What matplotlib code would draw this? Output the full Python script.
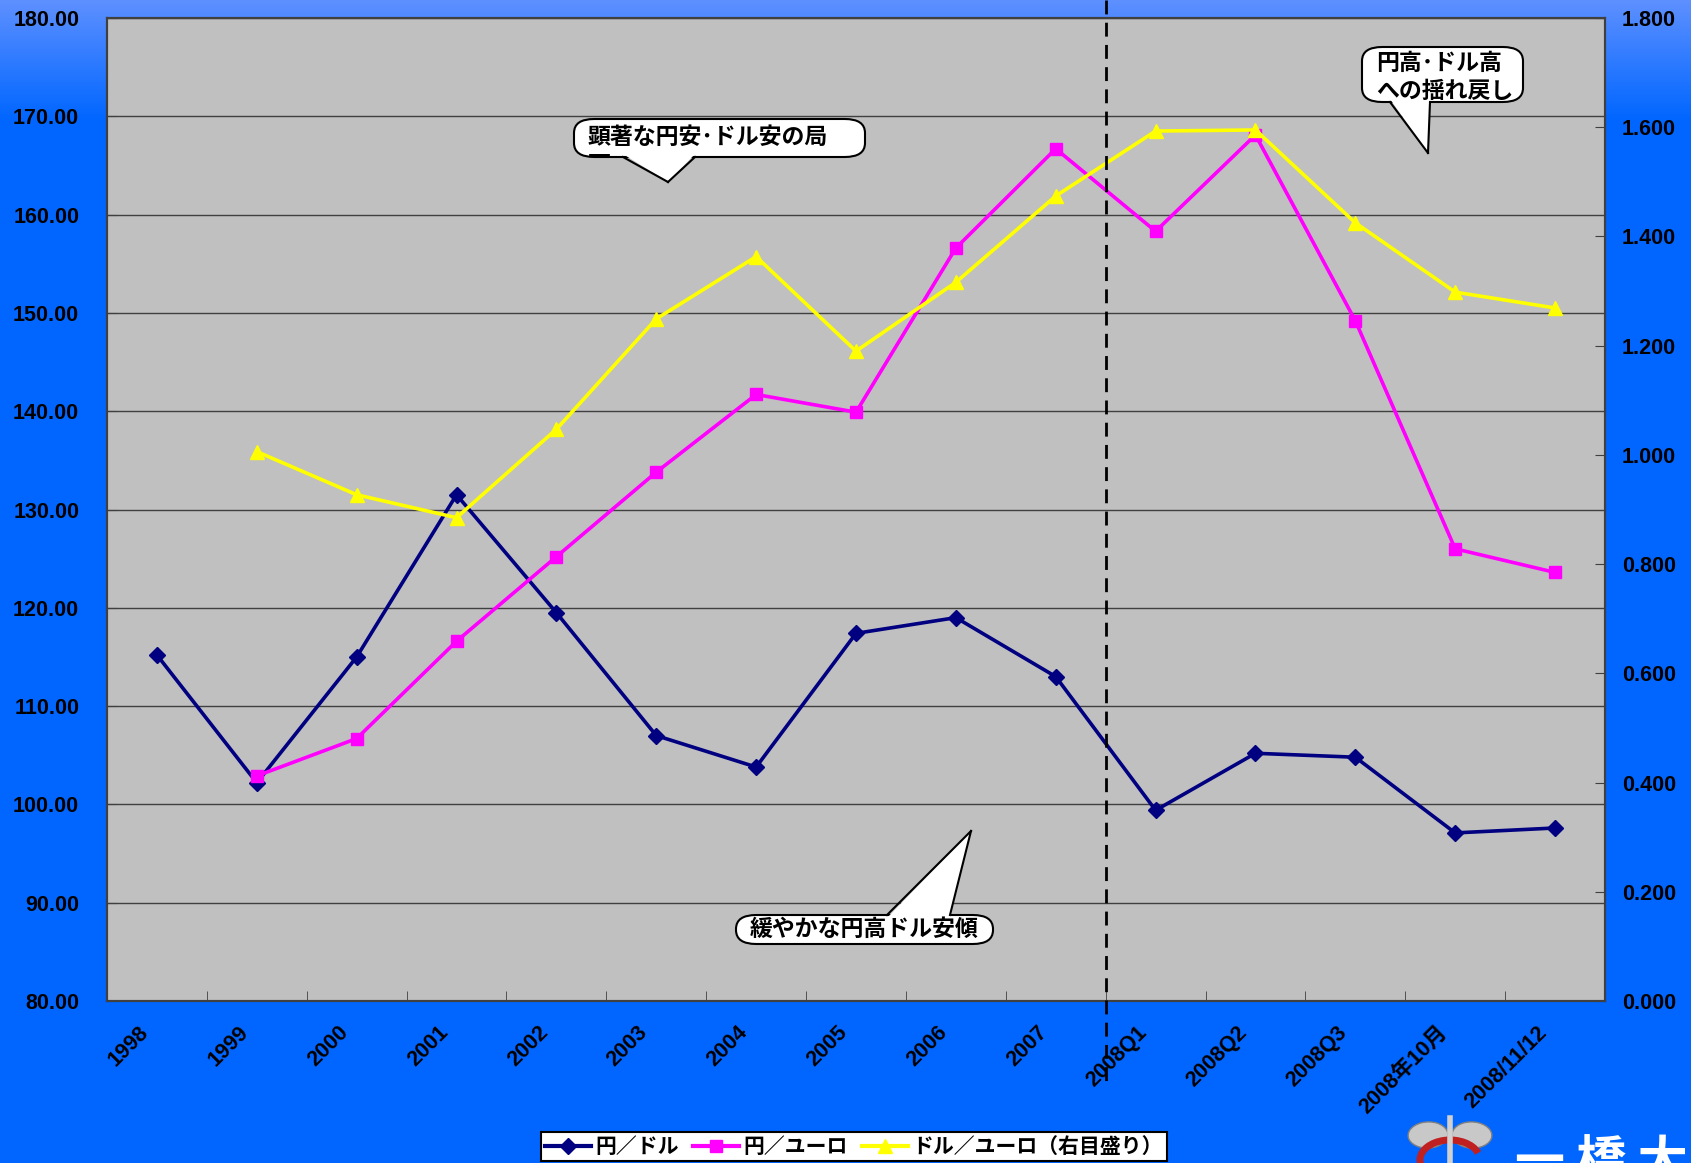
import numpy as np
import matplotlib
matplotlib.use('Agg')
import matplotlib.pyplot as plt
from matplotlib.patches import FancyBboxPatch, Polygon, Ellipse, Arc
from matplotlib.lines import Line2D
from matplotlib.transforms import (blended_transform_factory, ScaledTranslation,
                                   Bbox, TransformedBbox)

plt.rcParams['font.family'] = ['Liberation Sans', 'Noto Sans CJK JP', 'DejaVu Sans']
plt.rcParams['font.weight'] = 'bold'
CJK = ['Noto Sans CJK JP', 'DejaVu Sans']

# Data
categories = ['1998', '1999', '2000', '2001', '2002', '2003', '2004', '2005',
              '2006', '2007', '2008Q1', '2008Q2', '2008Q3', '2008年10月', '2008/11/12']
yen_dollar = [115.2, 102.2, 115.0, 131.5, 119.5, 107.0, 103.8, 117.4,
              119.0, 113.0, 99.4, 105.2, 104.8, 97.1, 97.6]
yen_euro = [np.nan, 102.9, 106.7, 116.6, 125.2, 133.8, 141.7, 139.9,
            156.6, 166.7, 158.3, 168.1, 149.2, 126.0, 123.6]
dollar_euro = [np.nan, 1.006, 0.927, 0.885, 1.047, 1.249, 1.363, 1.190,
               1.316, 1.474, 1.593, 1.595, 1.425, 1.298, 1.269]
series_labels = ['円／ドル', '円／ユーロ', 'ドル／ユーロ（右目盛り）']

W, H = 1691, 1163
fig = plt.figure(figsize=(W / 100, H / 100), dpi=100)


def fx(x):
    return x / W


def fy(y):
    return 1 - y / H


# Background gradient
bg = fig.add_axes([0, 0, 1, 1], zorder=-10)
top = np.array([0x5e, 0x90, 0xff]) / 255
base = np.array([0x00, 0x66, 0xff]) / 255
t = np.clip(np.arange(H) / 120.0, 0, 1)[:, None]
grad = top * (1 - t) + base * t
bg.imshow(grad[:, None, :].repeat(2, axis=1), aspect='auto', extent=[0, 1, 0, 1])
bg.axis('off')

ax = fig.add_axes([fx(107), fy(1001), fx(1605 - 107), (1001 - 18) / H])
ax.set_facecolor('#c0c0c0')
x = np.arange(len(categories))

ax.plot(x, yen_dollar, color='#000080', lw=2.6, marker='D', ms=8, zorder=3)
ax.plot(x, yen_euro, color='#ff00ff', lw=2.6, marker='s', ms=9, zorder=3)
ax.set_ylim(80, 180)
ax.set_yticks(np.arange(80, 181, 10))
ax.set_yticklabels([f'{v:.2f}' for v in np.arange(80, 181, 10)])
ax.grid(axis='y', color='#404040', lw=1)
ax.set_axisbelow(True)
ax.set_xlim(-0.5, len(categories) - 0.5)
ax.set_xticks(x)
ax.set_xticklabels(categories, rotation=45, ha='right', rotation_mode='anchor')
ax.set_xticks(np.arange(-0.5, len(categories), 1), minor=True)
ax.tick_params(axis='x', which='major', length=0, pad=15, labelsize=15.5)
ax.tick_params(axis='x', which='minor', direction='in', length=7, color='#404040')
ax.tick_params(axis='y', direction='in', length=7, color='#404040', labelsize=15.5, pad=20)
for s in ax.spines.values():
    s.set_color('#404040')
    s.set_linewidth(1.5)
shift = ScaledTranslation(-0.19, 0, fig.dpi_scale_trans)
for lab in ax.get_xticklabels():
    lab.set_transform(lab.get_transform() + shift)

ax2 = ax.twinx()
ax2.plot(x, dollar_euro, color='#ffff00', lw=2.6, marker='^', ms=10, zorder=3)
ax2.set_ylim(0, 1.8)
ax2.set_yticks(np.arange(0, 1.81, 0.2))
ax2.set_yticklabels([f'{v:.3f}' for v in np.arange(0, 1.81, 0.2)])
ax2.tick_params(axis='y', direction='in', length=7, color='#404040', labelsize=15.5, pad=12)
for s in ax2.spines.values():
    s.set_color('#404040')
    s.set_linewidth(1.5)
for lab in ax.get_xticklabels() + ax.get_yticklabels() + ax2.get_yticklabels():
    lab.set_fontweight('bold')

# Dashed divider between annual and 2008 data
tr = blended_transform_factory(ax.transData, fig.transFigure)
fig.add_artist(Line2D([9.5, 9.5], [1.0, fy(1085)], transform=tr, color='black',
                      lw=2, dashes=(5, 3)))


# Speech bubbles
def bubble(box, tail, text, fs, spacing=1.0, dy=0, extra=None):
    x0, y0, x1, y1 = box
    (bx0, by), (bx1, _), tip = tail
    p = FancyBboxPatch((fx(x0), fy(y1)), fx(x1 - x0), fy(y0) - fy(y1),
                       boxstyle='round,pad=0,rounding_size=0.012',
                       transform=fig.transFigure, fc='white', ec='black', lw=1.5,
                       zorder=5)
    fig.add_artist(p)
    inset = 3 if by >= y1 else -3
    poly = Polygon([(fx(bx0), fy(by - inset)), (fx(bx1), fy(by - inset)), (fx(tip[0]), fy(tip[1]))],
                   closed=True, transform=fig.transFigure, fc='white', ec='none', zorder=6)
    fig.add_artist(poly)
    for bxx in (bx0, bx1):
        fig.add_artist(Line2D([fx(bxx), fx(tip[0])], [fy(by), fy(tip[1])],
                              transform=fig.transFigure, color='black', lw=1.5, zorder=7))
    ymid = (y0 + y1) / 2 + dy if extra is None else y0 + 18
    fig.text(fx(x0 + 14), fy(ymid), text, fontsize=fs, fontweight='bold',
             ha='left', va='center', family=CJK, zorder=8, linespacing=spacing)
    if extra is not None:
        t2 = fig.text(fx(x0 + 14), fy(y1 - 3), extra, fontsize=fs, fontweight='bold',
                      ha='left', va='top', family=CJK, zorder=8)
        cb = Bbox([[fx(x0), fy(y1 - 1)], [fx(x1), fy(y1 - 8)]])
        t2.set_clip_box(TransformedBbox(cb, fig.transFigure))
        t2.set_clip_on(True)


bubble((574, 119, 865, 157), ((623, 157), (695, 157), (668, 182)),
       '顕著な円安･ドル安の局', 16.5, extra='面')
bubble((1362, 47, 1523, 102), ((1390, 102), (1430, 102), (1428, 153)),
       '円高･ドル高\nへの揺れ戻し', 16.5, spacing=1.25, dy=3)
bubble((736, 915, 993, 944), ((887, 915), (950, 915), (971, 831)),
       '緩やかな円高ドル安傾', 16.5)

# Legend
handles = [Line2D([], [], color='#000080', lw=3, marker='D', ms=8),
           Line2D([], [], color='#ff00ff', lw=3, marker='s', ms=9),
           Line2D([], [], color='#ffff00', lw=3, marker='^', ms=10)]
leg = fig.legend(handles, series_labels, ncol=3, loc='upper left',
                 bbox_to_anchor=(fx(541), fy(1132)), frameon=True, fancybox=False,
                 edgecolor='black', framealpha=1, borderaxespad=0,
                 prop={'size': 15, 'weight': 'bold', 'family': CJK}, handlelength=2.2,
                 columnspacing=0.7, handletextpad=0.2, borderpad=0.2)
leg.get_frame().set_linewidth(1.5)

# Emblem and university name fragment at bottom right
fig.add_artist(Ellipse((fx(1428), fy(1135)), fx(40), 26 / H, angle=20,
                       transform=fig.transFigure, fc='#c8c8c8', ec='#808080'))
fig.add_artist(Ellipse((fx(1472), fy(1135)), fx(40), 26 / H, angle=-20,
                       transform=fig.transFigure, fc='#c8c8c8', ec='#808080'))
fig.add_artist(Arc((fx(1450), fy(1160)), fx(60), 40 / H, theta1=20, theta2=340,
                   transform=fig.transFigure, color='#c02020', lw=5))
fig.add_artist(Line2D([fx(1450), fx(1450)], [fy(1118), fy(1163)],
                      transform=fig.transFigure, color='#d0d0d0', lw=4))
fig.text(fx(1515), fy(1163), '一 橋 大', color='white', fontsize=36,
         fontweight='bold', ha='left', va='center', family=CJK)

fig.savefig('out.png', dpi=100)
